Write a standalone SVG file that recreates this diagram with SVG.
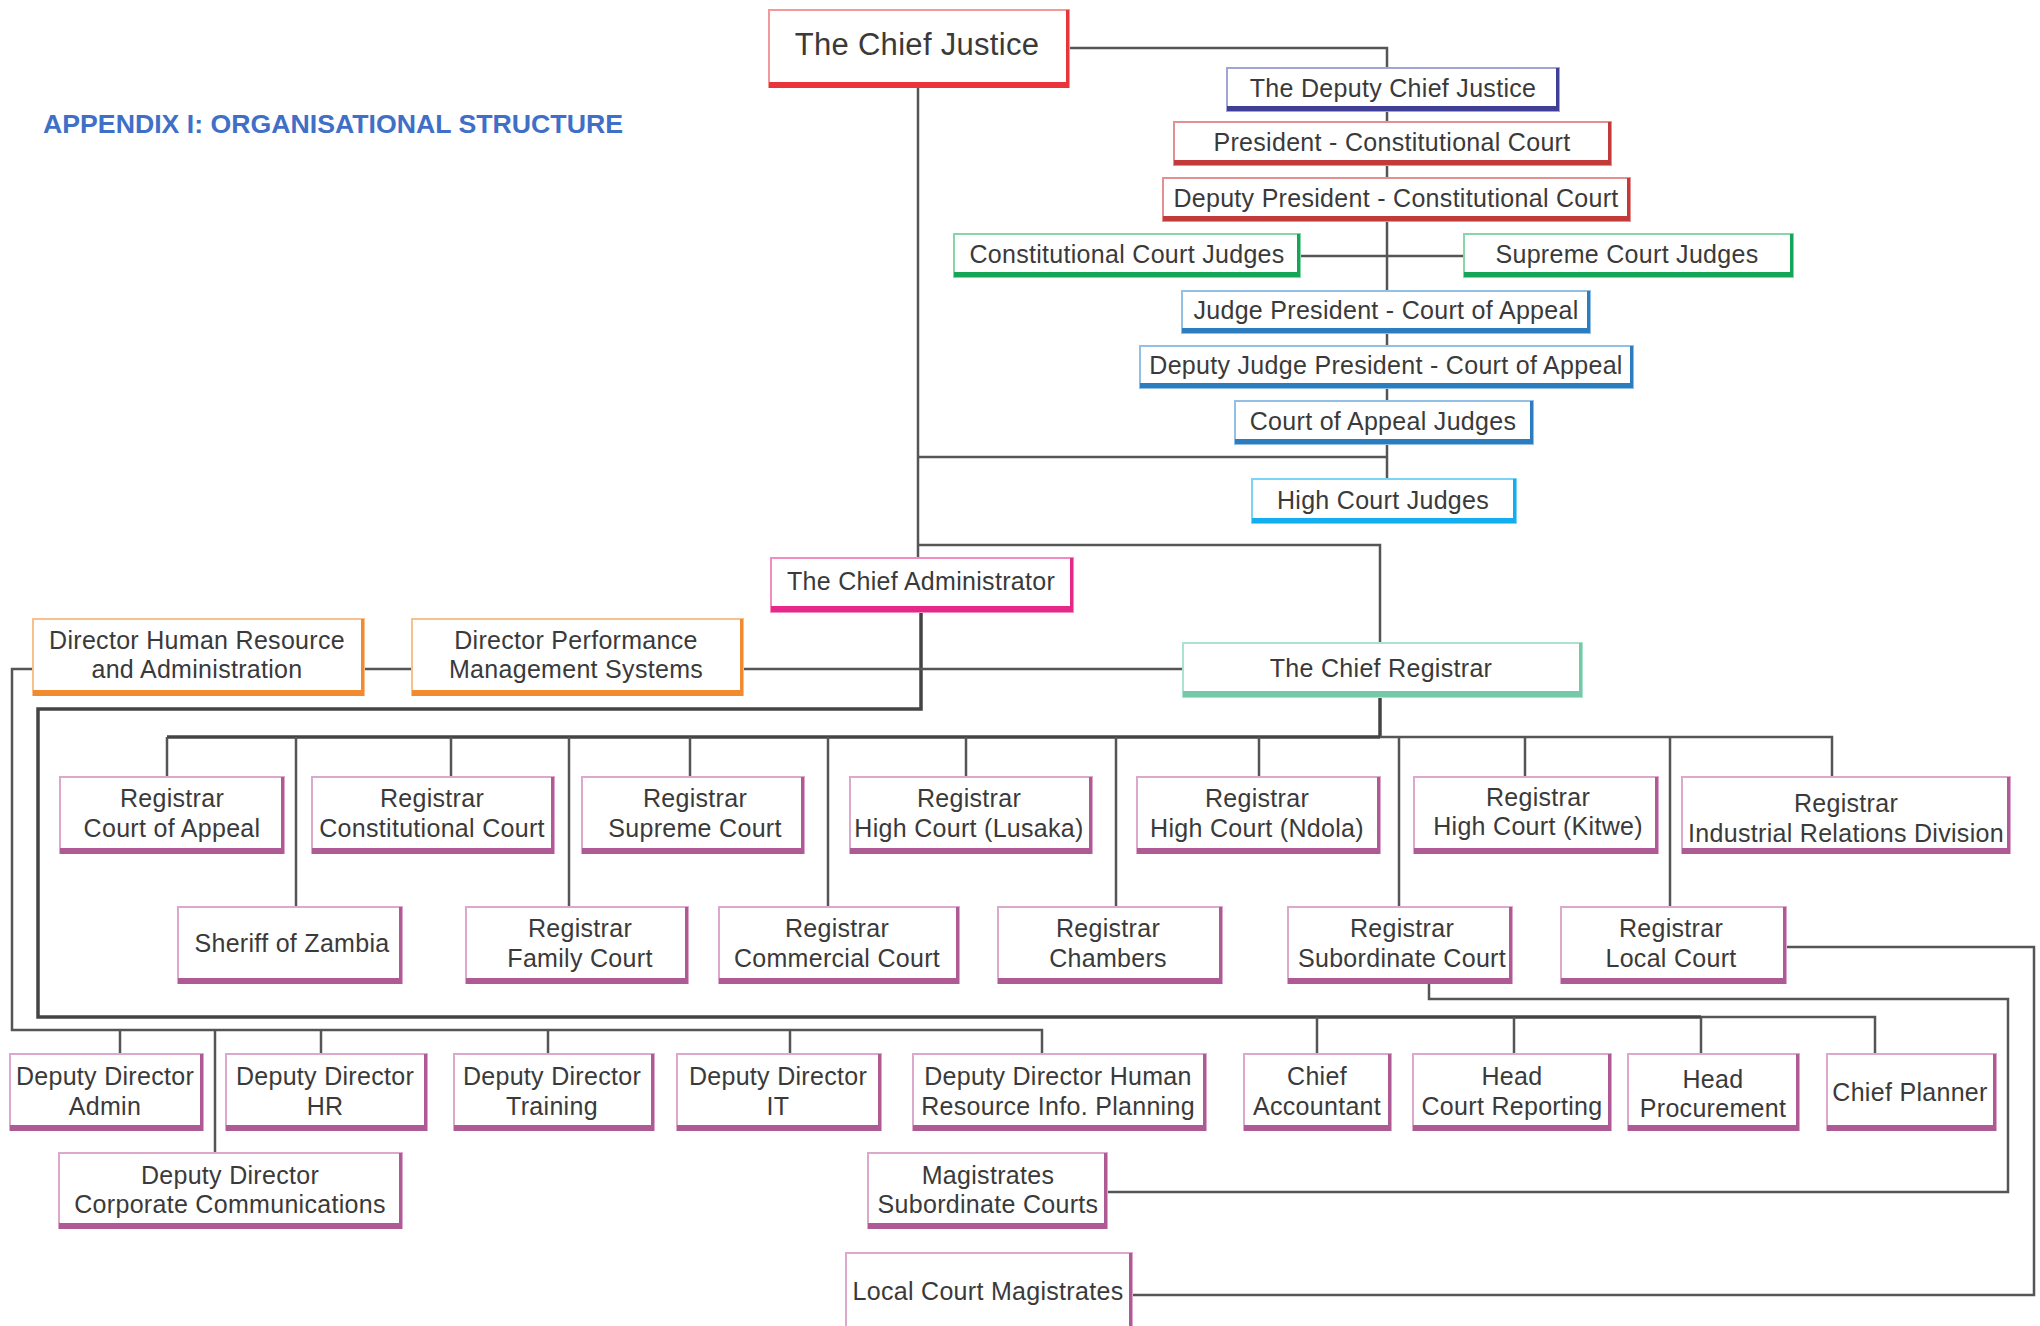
<svg xmlns="http://www.w3.org/2000/svg" width="2040" height="1326" viewBox="0 0 2040 1326">
<style>
  .bg{fill:#ffffff}
  .box{fill:#ffffff;stroke-width:2}
  text{font-family:"Liberation Sans","Open Sans",Arial,sans-serif;font-size:25px;fill:#3a3a3a;text-anchor:middle;letter-spacing:0.3px;dominant-baseline:central}
  .big{font-size:31px}
  .title{font-family:"Liberation Sans",Arial,sans-serif;font-size:26px;font-weight:bold;fill:#3f6fc6;text-anchor:start;letter-spacing:0}
  .conn path{fill:none;stroke:#555555;stroke-width:2.5}
  .conn path.thick{stroke:#444444;stroke-width:3.5}
  .red .box{stroke:#f29a9a}.red .bar{fill:#e8343a}
  .purple .box{stroke:#a3a3d6}.purple .bar{fill:#3f3f98}
  .dred .box{stroke:#e39090}.dred .bar{fill:#c23a3a}
  .green .box{stroke:#86d6a8}.green .bar{fill:#14a656}
  .blue .box{stroke:#92bfe3}.blue .bar{fill:#2c7dc0}
  .cyan .box{stroke:#7ad4f6}.cyan .bar{fill:#12aef0}
  .mag .box{stroke:#f08cc0}.mag .bar{fill:#e6288a}
  .orange .box{stroke:#f8c08c}.orange .bar{fill:#f28a30}
  .teal .box{stroke:#ade2cd}.teal .bar{fill:#74c9a9}
  .pink .box{stroke:#dca8cc}.pink .bar{fill:#ad5a95}
</style>
<rect class="bg" x="0" y="0" width="2040" height="1326"/>
<text class="title" x="43" y="124" textLength="580" lengthAdjust="spacingAndGlyphs">APPENDIX I: ORGANISATIONAL STRUCTURE</text>

<g id="connectors" class="conn">
  <path d="M1069 48 H1387 V479"/>
  <path d="M1300 256 H1464"/>
  <path d="M918 87 V558"/>
  <path d="M918 457 H1387"/>
  <path d="M918 545 H1380 V643"/>
  <path class="thick" d="M921 612 V709 H38 V1017 H1701"/>
  <path d="M1701 1017 H1875 V1054"/>
  <path d="M1317 1017 V1054 M1514 1017 V1054 M1701 1017 V1054"/>
  <path d="M364 669 H412 M743 669 H1183"/>
  <path d="M33 669 H12 V1030 H1042 V1054"/>
  <path d="M120 1030 V1054 M215 1030 V1153 M321 1030 V1054 M548 1030 V1054 M790 1030 V1054"/>
  <path class="thick" d="M1380 697 V737 M167 737 H1380"/>
  <path d="M1380 737 H1832 V777"/>
  <path d="M167 737 V777 M451 737 V777 M690 737 V777 M966 737 V777 M1259 737 V777 M1525 737 V777"/>
  <path d="M296 737 V907 M569 737 V907 M828 737 V907 M1116 737 V907 M1399 737 V907 M1670 737 V907"/>
  <path d="M1429 983 V999 H2008 V1192 H1107"/>
  <path d="M1786 947 H2034 V1295 H1132"/>
</g>

<g id="chief-justice" class="red"><rect class="box" x="769" y="10" width="300" height="77"/><rect class="bar" x="769" y="82" width="300" height="6"/><rect class="bar" x="1066" y="10" width="3" height="78"/><text class="big" x="917" y="44">The Chief Justice</text></g>
<g id="deputy-chief-justice" class="purple"><rect class="box" x="1227" y="68" width="332" height="43"/><rect class="bar" x="1227" y="106" width="332" height="5"/><rect class="bar" x="1556" y="68" width="3" height="43"/><text x="1393" y="88">The Deputy Chief Justice</text></g>
<g id="president-cc" class="dred"><rect class="box" x="1174" y="122" width="437" height="43"/><rect class="bar" x="1174" y="160" width="437" height="5"/><rect class="bar" x="1608" y="122" width="3" height="43"/><text x="1392" y="142">President - Constitutional Court</text></g>
<g id="deputy-president-cc" class="dred"><rect class="box" x="1163" y="178" width="467" height="43"/><rect class="bar" x="1163" y="216" width="467" height="5"/><rect class="bar" x="1627" y="178" width="3" height="43"/><text x="1396" y="198">Deputy President - Constitutional Court</text></g>
<g id="cc-judges" class="green"><rect class="box" x="954" y="234" width="346" height="43"/><rect class="bar" x="954" y="272" width="346" height="5"/><rect class="bar" x="1297" y="234" width="3" height="43"/><text x="1127" y="254">Constitutional Court Judges</text></g>
<g id="sc-judges" class="green"><rect class="box" x="1464" y="234" width="329" height="43"/><rect class="bar" x="1464" y="272" width="329" height="5"/><rect class="bar" x="1790" y="234" width="3" height="43"/><text x="1627" y="254">Supreme Court Judges</text></g>
<g id="jp-coa" class="blue"><rect class="box" x="1182" y="291" width="408" height="42"/><rect class="bar" x="1182" y="328" width="408" height="5"/><rect class="bar" x="1587" y="291" width="3" height="42"/><text x="1386" y="310">Judge President - Court of Appeal</text></g>
<g id="djp-coa" class="blue"><rect class="box" x="1140" y="346" width="493" height="42"/><rect class="bar" x="1140" y="383" width="493" height="5"/><rect class="bar" x="1630" y="346" width="3" height="42"/><text x="1386" y="365">Deputy Judge President - Court of Appeal</text></g>
<g id="coa-judges" class="blue"><rect class="box" x="1235" y="401" width="298" height="43"/><rect class="bar" x="1235" y="439" width="298" height="5"/><rect class="bar" x="1530" y="401" width="3" height="43"/><text x="1383" y="421">Court of Appeal Judges</text></g>
<g id="hc-judges" class="cyan"><rect class="box" x="1252" y="479" width="264" height="44"/><rect class="bar" x="1252" y="518" width="264" height="5"/><rect class="bar" x="1513" y="479" width="3" height="44"/><text x="1383" y="500">High Court Judges</text></g>

<g id="chief-administrator" class="mag"><rect class="box" x="771" y="558" width="302" height="54"/><rect class="bar" x="771" y="606" width="302" height="6"/><rect class="bar" x="1070" y="558" width="3" height="54"/><text x="921" y="581">The Chief Administrator</text></g>
<g id="dir-hr" class="orange"><rect class="box" x="33" y="619" width="331" height="76"/><rect class="bar" x="33" y="690" width="331" height="6"/><rect class="bar" x="361" y="619" width="3" height="77"/><text x="197" y="640">Director Human Resource</text><text x="197" y="669">and Administration</text></g>
<g id="dir-pms" class="orange"><rect class="box" x="412" y="619" width="331" height="76"/><rect class="bar" x="412" y="690" width="331" height="6"/><rect class="bar" x="740" y="619" width="3" height="77"/><text x="576" y="640">Director Performance</text><text x="576" y="669">Management Systems</text></g>
<g id="chief-registrar" class="teal"><rect class="box" x="1183" y="643" width="399" height="54"/><rect class="bar" x="1183" y="691" width="399" height="6"/><rect class="bar" x="1579" y="643" width="3" height="54"/><text x="1381" y="668">The Chief Registrar</text></g>

<g id="reg-coa" class="pink"><rect class="box" x="60" y="777" width="224" height="76"/><rect class="bar" x="60" y="848" width="224" height="6"/><rect class="bar" x="281" y="777" width="3" height="77"/><text x="172" y="798">Registrar</text><text x="172" y="828">Court of Appeal</text></g>
<g id="reg-cc" class="pink"><rect class="box" x="312" y="777" width="242" height="76"/><rect class="bar" x="312" y="848" width="242" height="6"/><rect class="bar" x="551" y="777" width="3" height="77"/><text x="432" y="798">Registrar</text><text x="432" y="828">Constitutional Court</text></g>
<g id="reg-sc" class="pink"><rect class="box" x="582" y="777" width="222" height="76"/><rect class="bar" x="582" y="848" width="222" height="6"/><rect class="bar" x="801" y="777" width="3" height="77"/><text x="695" y="798">Registrar</text><text x="695" y="828">Supreme Court</text></g>
<g id="reg-hc-lusaka" class="pink"><rect class="box" x="850" y="777" width="242" height="76"/><rect class="bar" x="850" y="848" width="242" height="6"/><rect class="bar" x="1089" y="777" width="3" height="77"/><text x="969" y="798">Registrar</text><text x="969" y="828">High Court (Lusaka)</text></g>
<g id="reg-hc-ndola" class="pink"><rect class="box" x="1137" y="777" width="243" height="76"/><rect class="bar" x="1137" y="848" width="243" height="6"/><rect class="bar" x="1377" y="777" width="3" height="77"/><text x="1257" y="798">Registrar</text><text x="1257" y="828">High Court (Ndola)</text></g>
<g id="reg-hc-kitwe" class="pink"><rect class="box" x="1414" y="777" width="244" height="76"/><rect class="bar" x="1414" y="848" width="244" height="6"/><rect class="bar" x="1655" y="777" width="3" height="77"/><text x="1538" y="797">Registrar</text><text x="1538" y="826">High Court (Kitwe)</text></g>
<g id="reg-ird" class="pink"><rect class="box" x="1682" y="777" width="328" height="76"/><rect class="bar" x="1682" y="848" width="328" height="6"/><rect class="bar" x="2007" y="777" width="3" height="77"/><text x="1846" y="803">Registrar</text><text x="1846" y="833">Industrial Relations Division</text></g>

<g id="sheriff" class="pink"><rect class="box" x="178" y="907" width="224" height="76"/><rect class="bar" x="178" y="978" width="224" height="6"/><rect class="bar" x="399" y="907" width="3" height="77"/><text x="292" y="943">Sheriff of Zambia</text></g>
<g id="reg-family" class="pink"><rect class="box" x="466" y="907" width="222" height="76"/><rect class="bar" x="466" y="978" width="222" height="6"/><rect class="bar" x="685" y="907" width="3" height="77"/><text x="580" y="928">Registrar</text><text x="580" y="958">Family Court</text></g>
<g id="reg-commercial" class="pink"><rect class="box" x="719" y="907" width="240" height="76"/><rect class="bar" x="719" y="978" width="240" height="6"/><rect class="bar" x="956" y="907" width="3" height="77"/><text x="837" y="928">Registrar</text><text x="837" y="958">Commercial Court</text></g>
<g id="reg-chambers" class="pink"><rect class="box" x="998" y="907" width="224" height="76"/><rect class="bar" x="998" y="978" width="224" height="6"/><rect class="bar" x="1219" y="907" width="3" height="77"/><text x="1108" y="928">Registrar</text><text x="1108" y="958">Chambers</text></g>
<g id="reg-subordinate" class="pink"><rect class="box" x="1288" y="907" width="224" height="76"/><rect class="bar" x="1288" y="978" width="224" height="6"/><rect class="bar" x="1509" y="907" width="3" height="77"/><text x="1402" y="928">Registrar</text><text x="1402" y="958">Subordinate Court</text></g>
<g id="reg-local" class="pink"><rect class="box" x="1561" y="907" width="225" height="76"/><rect class="bar" x="1561" y="978" width="225" height="6"/><rect class="bar" x="1783" y="907" width="3" height="77"/><text x="1671" y="928">Registrar</text><text x="1671" y="958">Local Court</text></g>

<g id="dd-admin" class="pink"><rect class="box" x="10" y="1054" width="193" height="76"/><rect class="bar" x="10" y="1125" width="193" height="6"/><rect class="bar" x="200" y="1054" width="3" height="77"/><text x="105" y="1076">Deputy Director</text><text x="105" y="1106">Admin</text></g>
<g id="dd-hr" class="pink"><rect class="box" x="226" y="1054" width="201" height="76"/><rect class="bar" x="226" y="1125" width="201" height="6"/><rect class="bar" x="424" y="1054" width="3" height="77"/><text x="325" y="1076">Deputy Director</text><text x="325" y="1106">HR</text></g>
<g id="dd-training" class="pink"><rect class="box" x="454" y="1054" width="200" height="76"/><rect class="bar" x="454" y="1125" width="200" height="6"/><rect class="bar" x="651" y="1054" width="3" height="77"/><text x="552" y="1076">Deputy Director</text><text x="552" y="1106">Training</text></g>
<g id="dd-it" class="pink"><rect class="box" x="677" y="1054" width="204" height="76"/><rect class="bar" x="677" y="1125" width="204" height="6"/><rect class="bar" x="878" y="1054" width="3" height="77"/><text x="778" y="1076">Deputy Director</text><text x="778" y="1106">IT</text></g>
<g id="dd-hrip" class="pink"><rect class="box" x="913" y="1054" width="293" height="76"/><rect class="bar" x="913" y="1125" width="293" height="6"/><rect class="bar" x="1203" y="1054" width="3" height="77"/><text x="1058" y="1076">Deputy Director Human</text><text x="1058" y="1106">Resource Info. Planning</text></g>
<g id="chief-accountant" class="pink"><rect class="box" x="1244" y="1054" width="147" height="76"/><rect class="bar" x="1244" y="1125" width="147" height="6"/><rect class="bar" x="1388" y="1054" width="3" height="77"/><text x="1317" y="1076">Chief</text><text x="1317" y="1106">Accountant</text></g>
<g id="head-court-reporting" class="pink"><rect class="box" x="1413" y="1054" width="198" height="76"/><rect class="bar" x="1413" y="1125" width="198" height="6"/><rect class="bar" x="1608" y="1054" width="3" height="77"/><text x="1512" y="1076">Head</text><text x="1512" y="1106">Court Reporting</text></g>
<g id="head-procurement" class="pink"><rect class="box" x="1628" y="1054" width="171" height="76"/><rect class="bar" x="1628" y="1125" width="171" height="6"/><rect class="bar" x="1796" y="1054" width="3" height="77"/><text x="1713" y="1079">Head</text><text x="1713" y="1108">Procurement</text></g>
<g id="chief-planner" class="pink"><rect class="box" x="1827" y="1054" width="169" height="76"/><rect class="bar" x="1827" y="1125" width="169" height="6"/><rect class="bar" x="1993" y="1054" width="3" height="77"/><text x="1910" y="1092">Chief Planner</text></g>

<g id="dd-corp-comms" class="pink"><rect class="box" x="59" y="1153" width="343" height="75"/><rect class="bar" x="59" y="1223" width="343" height="6"/><rect class="bar" x="399" y="1153" width="3" height="76"/><text x="230" y="1175">Deputy Director</text><text x="230" y="1204">Corporate Communications</text></g>
<g id="magistrates-subordinate" class="pink"><rect class="box" x="868" y="1153" width="239" height="75"/><rect class="bar" x="868" y="1223" width="239" height="6"/><rect class="bar" x="1104" y="1153" width="3" height="76"/><text x="988" y="1175">Magistrates</text><text x="988" y="1204">Subordinate Courts</text></g>
<g id="local-court-magistrates" class="pink"><rect class="box" x="846" y="1253" width="286" height="80"/><rect class="bar" x="1129" y="1253" width="3" height="80"/><text x="988" y="1291">Local Court Magistrates</text></g>
</svg>
